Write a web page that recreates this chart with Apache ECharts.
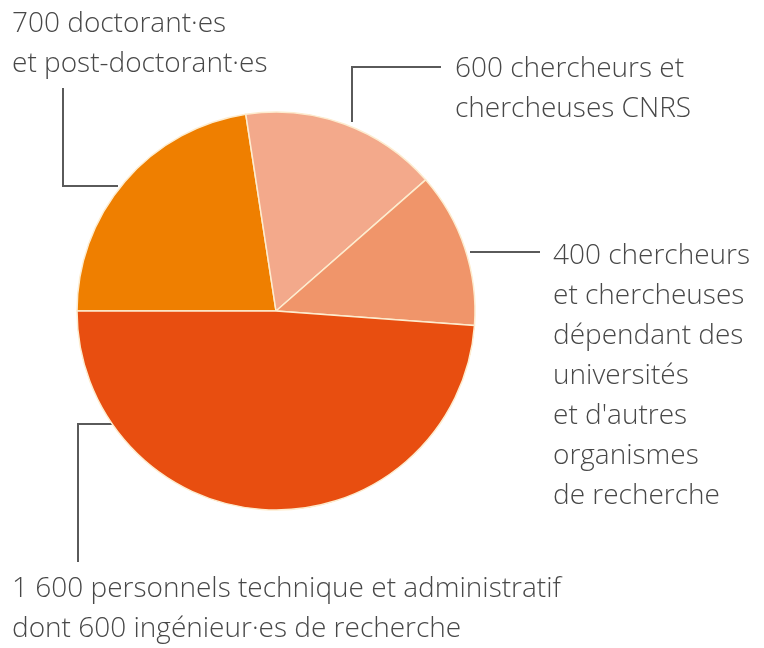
<!DOCTYPE html>
<html>
<head>
<meta charset="utf-8">
<script src="https://cdn.jsdelivr.net/npm/echarts@6/dist/echarts.min.js"></script>
<style>
  html, body { margin: 0; padding: 0; background: #fff; }
  #chart { width: 764px; height: 648px; }
</style>
</head>
<body>
<div id="chart"></div>
<script>
// Effectifs par catégorie (angles)
const categories = [
    "700 doctorant·es\net post-doctorant·es",
    "600 chercheurs et\nchercheuses CNRS",
    "400 chercheurs\net chercheuses\ndépendant des\nuniversités\net d'autres\norganismes\nde recherche",
    "1 600 personnels technique et administratif\ndont 600 ingénieur·es de recherche",
]
const values = [745, 527, 416, 1612]
const sliceColors = ["#ef7f00", "#f3a98b", "#f0956a", "#e84e10"]

// position du bloc de texte (coin haut gauche) et tracé du trait de rappel
const labelPlacement = [
    { x: 12, y: 4, line: [[118, 186], [63, 186], [63, 88]] },
    { x: 455, y: 49, line: [[352, 122], [352, 67], [441, 67]] },
    { x: 553, y: 236, line: [[470, 252], [540, 252]] },
    { x: 12, y: 569, line: [[112, 424], [78, 424], [78, 562]] },
]

const chart = echarts.init(document.getElementById("chart"))

chart.setOption({
    animation: false,
    series: [
        {
            type: "pie",
            center: [276, 311],
            radius: 199,
            startAngle: 180,
            clockwise: true,
            data: categories.map((name, i) => ({
                name,
                value: values[i],
                itemStyle: { color: sliceColors[i] },
            })),
            itemStyle: {
                borderColor: "#fdeccf",
                borderWidth: 1.5,
            },
            label: {
                show: true,
                formatter: "{b}",
                color: "#484848",
                fontFamily: "Open Sans",
                fontWeight: 300,
                fontSize: 28,
                lineHeight: 40,
                align: "left",
                overflow: "none",
                width: 760,
            },
            labelLine: {
                show: true,
                lineStyle: { color: "#5a5a5a", width: 2 },
            },
            labelLayout: params => {
                const p = labelPlacement[params.dataIndex]
                return {
                    x: p.x,
                    y: p.y,
                    align: "left",
                    verticalAlign: "top",
                    labelLinePoints: p.line,
                }
            },
            emphasis: { disabled: true },
        },
    ],
})
</script>
</body>
</html>
